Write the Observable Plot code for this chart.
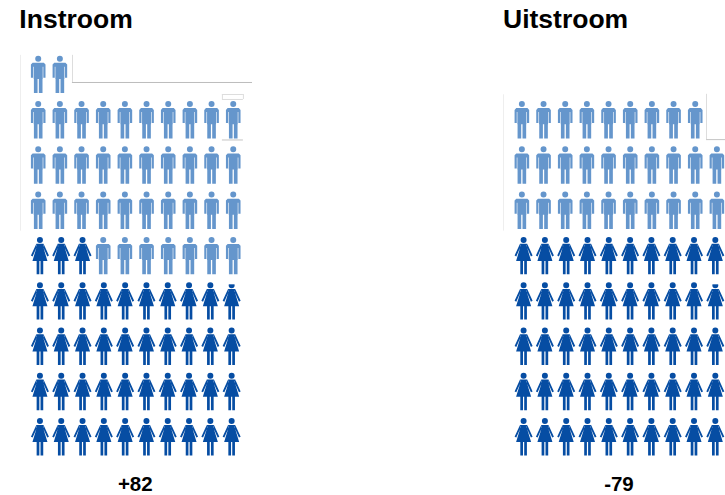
<!DOCTYPE html>
<html>
<head>
<meta charset="utf-8">
<script src="https://cdn.jsdelivr.net/npm/d3@7"></script>
<script src="https://cdn.jsdelivr.net/npm/@observablehq/plot@0.6"></script>
<style>
  html, body { margin: 0; padding: 0; background: #fff; }
  svg { display: block; }
</style>
</head>
<body>
<div id="chart"></div>
<script>
// Pictogram of staff movement: every figure is one person.
const panels = ["Instroom", "Uitstroom"];
const saldo = [82, -79];
const vrouwen = [43, 50];

const kleurMan = "#6596cc";
const kleurVrouw = "#064da3";
const perRij = 10;
const rijen = 9;

// Column offset of each panel on the shared x scale.
const panelStart = [0, 22.32];

// Figures are drawn around their centre, in pixels, with r = 1.
function rect(c, x0, y0, x1, y1) {
  c.moveTo(x0, y0); c.lineTo(x1, y0); c.lineTo(x1, y1); c.lineTo(x0, y1); c.closePath();
}
const man = {
  draw(c) {
    c.moveTo(3, -15.7);
    c.arc(0, -15.7, 3, 0, 2 * Math.PI);
    c.closePath();
    c.moveTo(-7.3, -9.8);
    c.lineTo(-5.6, -11.6);
    c.lineTo(5.6, -11.6);
    c.lineTo(7.3, -9.8);
    c.lineTo(7.3, 3.4);
    c.lineTo(5.1, 3.4);
    c.lineTo(5.1, -7.6);
    c.lineTo(4.5, -7.6);
    c.lineTo(4.5, 4.5);
    c.lineTo(-4.5, 4.5);
    c.lineTo(-4.5, -7.6);
    c.lineTo(-5.1, -7.6);
    c.lineTo(-5.1, 3.4);
    c.lineTo(-7.3, 3.4);
    c.closePath();
    rect(c, -4.3, 4, -0.65, 18.7);
    rect(c, 0.65, 4, 4.3, 18.7);
  }
};
const vrouw = {
  draw(c) {
    c.moveTo(3, -15.7);
    c.arc(0, -15.7, 3, 0, 2 * Math.PI);
    c.closePath();
    // shoulders and dress
    c.moveTo(-3.6, -11.9);
    c.lineTo(3.6, -11.9);
    c.lineTo(3, -9.5);
    c.lineTo(7.5, 5.3);
    c.lineTo(-7.5, 5.3);
    c.lineTo(-3, -9.5);
    c.closePath();
    // arms, wound the same way as the dress so the overlap stays filled
    c.moveTo(-3.6, -11.9);
    c.lineTo(-3.2, -8.6);
    c.lineTo(-7.3, 0.8);
    c.lineTo(-9, -0.1);
    c.closePath();
    c.moveTo(3.6, -11.9);
    c.lineTo(9, -0.1);
    c.lineTo(7.3, 0.8);
    c.lineTo(3.2, -8.6);
    c.closePath();
    rect(c, -3.3, 5, -0.6, 18.7);
    rect(c, 0.6, 5, 3.3, 18.7);
  }
};

// Fill the grid from the bottom-left: women first, then men.
const figuren = panels.flatMap((panel, p) => {
  const totaal = Math.abs(saldo[p]);
  return d3.range(totaal).map(i => {
    const vrouwelijk = i < vrouwen[p];
    const kol = i % perRij;
    return {
      panel,
      vrouwelijk,
      rij: rijen - 1 - Math.floor(i / perRij),
      x: panelStart[p] + (vrouwelijk ? 0.08 + kol * 0.983 : kol)
    };
  });
});

// Leftover frame fragments around the figure grids.
const randLijnenH = [
  {x1: 1.58, x2: 9.89, y: 0.179, kleur: "#bdbdbd"},
  {x1: 8.5, x2: 9.47, y: 1.448, kleur: "#c4c4c4"},
  {x1: 8.5, x2: 9.47, y: 0.444, kleur: "#dddddd"},
  {x1: 8.5, x2: 9.47, y: 0.554, kleur: "#dddddd"},
  {x1: 22.32 + 8.52, x2: 22.32 + 9.4, y: 1.44, kleur: "#c4c4c4"}
];
const randLijnenV = [
  {x: -0.817, y1: -0.42, y2: 3.46, kleur: "#eeeeee"},
  {x: 1.583, y1: -0.42, y2: 0.179, kleur: "#dddddd"},
  {x: 8.5, y1: 0.444, y2: 0.554, kleur: "#dddddd"},
  {x: 9.47, y1: 0.444, y2: 0.554, kleur: "#dddddd"},
  {x: 22.32 - 0.845, y1: 0.45, y2: 3.46, kleur: "#eeeeee"},
  {x: 22.32 + 8.52, y1: 0.44, y2: 1.44, kleur: "#dddddd"}
];
// The last head in the fifth row of each panel is cut off at the top.
const afgedekt = panelStart.map(s => ({x1: s + 8.7, x2: s + 9.4, y1: 4.54, y2: 4.645}));

const plot = Plot.plot({
  width: 725,
  height: 495,
  margin: 0,
  style: {background: "#fff", fontFamily: "'Liberation Sans', Arial, sans-serif"},
  x: {axis: null, domain: [-1.74, 31.717], range: [0, 725]},
  y: {axis: null, domain: [-1.631, 9.296], range: [0, 495]},
  marks: [
    Plot.ruleY(randLijnenH, {x1: "x1", x2: "x2", y: "y", stroke: "kleur", strokeWidth: 1}),
    Plot.ruleX(randLijnenV, {x: "x", y1: "y1", y2: "y2", stroke: "kleur", strokeWidth: 1}),
    Plot.dot(figuren.filter(d => !d.vrouwelijk), {x: "x", y: "rij", r: 1, symbol: man, fill: kleurMan, stroke: "none"}),
    Plot.dot(figuren.filter(d => d.vrouwelijk), {x: "x", y: "rij", r: 1, symbol: vrouw, fill: kleurVrouw, stroke: "none"}),
    Plot.rect(afgedekt, {x1: "x1", x2: "x2", y1: "y1", y2: "y2", fill: "#fff"}),
    Plot.text(panels, {
      x: (d, i) => panelStart[i] - 0.87,
      y: () => -1.21,
      text: d => d,
      textAnchor: "start",
      fontSize: 26.5,
      fontWeight: "bold",
      fill: "#000"
    }),
    Plot.text(saldo, {
      x: (d, i) => panelStart[i] + 4.48,
      y: () => 9.05,
      text: d => d3.format("+")(d).replace("−", "-"),
      fontSize: 20.5,
      fontWeight: "bold",
      fill: "#000"
    })
  ]
});
document.getElementById("chart").append(plot);
</script>
</body>
</html>
